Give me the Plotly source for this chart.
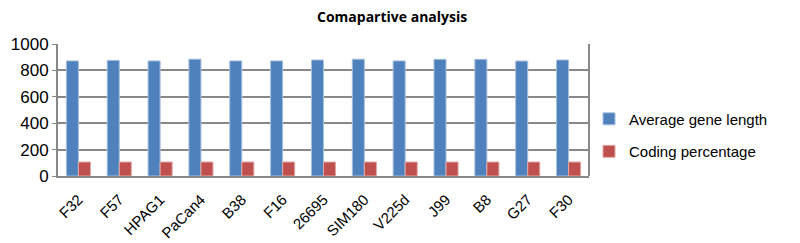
import plotly.graph_objects as go

categories = ["F32", "F57", "HPAG1", "PaCan4", "B38", "F16", "26695", "SIM180", "V225d", "J99", "B8", "G27", "F30"]
avg_gene_length = [872, 876, 872, 885, 872, 872, 879, 885, 872, 884, 884, 871, 879]
coding_percentage = [106, 106, 106, 106, 106, 106, 106, 106, 106, 106, 106, 106, 106]

fig = go.Figure()
fig.add_trace(go.Bar(x=categories, y=avg_gene_length, name="Average gene length", legendgroup="a",
                     marker=dict(color="#4F81BD", line=dict(color="#A7C0DE", width=1))))
fig.add_trace(go.Bar(x=categories, y=coding_percentage, name="Coding percentage", legendgroup="b",
                     marker=dict(color="#C0504D", line=dict(color="#E0A8A6", width=1))))

fig.update_layout(
    width=792, height=235,
    margin=dict(l=50, r=211, t=36, b=67, autoexpand=False),
    paper_bgcolor="white", plot_bgcolor="white",
    barmode="group", bargap=0.41, bargroupgap=0,
    title=dict(text="<b>Comapartive analysis</b>", x=0.485, xanchor="center", y=0.96, yanchor="middle",
               font=dict(family="Open Sans, Liberation Sans, sans-serif", size=14, color="black")),
    font=dict(family="Liberation Sans, Arial, sans-serif", color="black"),
    legend=dict(x=1.0, y=0.31, xanchor="left", yanchor="middle",
                font=dict(size=15), tracegroupgap=10, itemwidth=30, bgcolor="rgba(0,0,0,0)"),
    showlegend=True,
)
fig.update_yaxes(range=[0, 1000], dtick=200, showgrid=True, gridcolor="#888888", gridwidth=2,
                 showline=True, linecolor="#888888", linewidth=2, mirror=False, automargin=False,
                 tickfont=dict(size=17), ticks="outside", ticklen=4, tickcolor="#888888",
                 zeroline=False)
fig.update_xaxes(tickangle=-45, tickfont=dict(size=15), showline=True, linecolor="#888888", linewidth=2,
                 showgrid=False, ticks="", automargin=False, ticklabelstandoff=7)
fig.add_shape(type="line", xref="paper", yref="paper", x0=1, x1=1, y0=0, y1=1,
              line=dict(color="#888888", width=2))

fig.write_html("out.html")
